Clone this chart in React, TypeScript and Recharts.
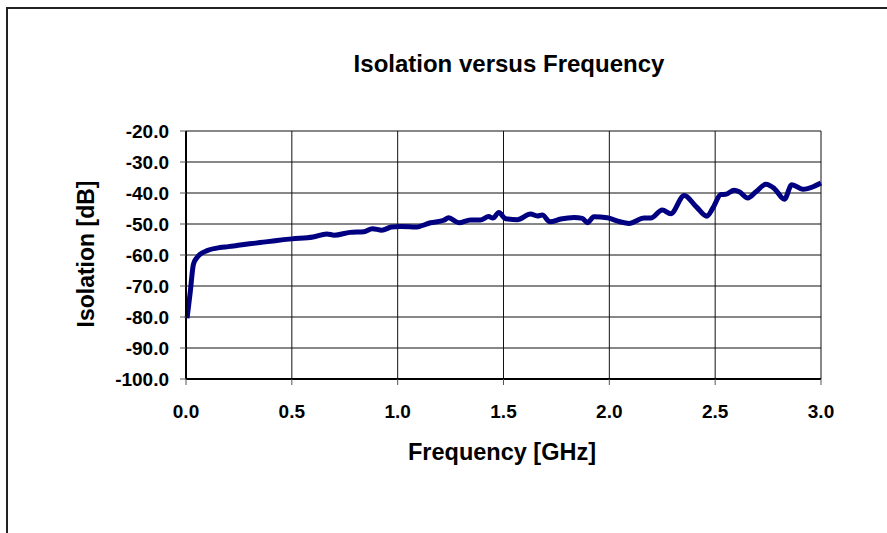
import { LineChart, Line, XAxis, YAxis, CartesianGrid } from 'recharts';

const freqGHz = [
  0.005, 0.02, 0.035, 0.05, 0.066, 0.1, 0.16, 0.2, 0.255, 0.3, 0.35, 0.43, 0.5, 0.6, 0.665, 0.7,
  0.775, 0.84, 0.88, 0.925, 0.97, 1.013, 1.06, 1.084, 1.155, 1.218, 1.24, 1.289, 1.344, 1.39, 1.43,
  1.45, 1.478, 1.51, 1.565, 1.628, 1.66, 1.683, 1.72, 1.77, 1.833, 1.873, 1.896, 1.927, 1.99, 2.046,
  2.093, 2.164, 2.196, 2.25, 2.29, 2.354, 2.41, 2.461, 2.488, 2.527, 2.55, 2.59, 2.614, 2.654, 2.693,
  2.74, 2.78, 2.827, 2.862, 2.914, 2.969, 3.0,
];

const isolationDb = [
  -80.4, -72, -63, -61, -59.8, -58.6, -57.6, -57.3, -56.8, -56.4, -56, -55.3, -54.8, -54.2, -53.2, -53.6,
  -52.7, -52.5, -51.5, -52.0, -51.0, -50.8, -50.9, -51.0, -49.6, -48.8, -48.0, -49.6, -48.7, -48.7, -47.6,
  -48.1, -46.3, -48.3, -48.6, -46.8, -47.4, -47.1, -49.3, -48.4, -47.9, -48.2, -49.6, -47.7, -48.0, -49.2,
  -49.8, -48.1, -48.1, -45.5, -46.7, -40.8, -44.4, -47.5, -45.0, -40.5, -40.4, -39.1, -39.6, -41.6, -39.6,
  -37.2, -38.6, -42.0, -37.3, -38.8, -37.8, -36.8,
];

const xTicks = [0, 0.5, 1, 1.5, 2, 2.5, 3];
const yTicks = [-100, -90, -80, -70, -60, -50, -40, -30, -20];

const data = freqGHz.map((f, i) => ({ freq: f, iso: isolationDb[i] }));

const font = 'Arial, "Liberation Sans", sans-serif';
const tickStyle = { fill: '#000', fontSize: 19, fontWeight: 700, fontFamily: font };

export default function App() {
  return (
    <div
      style={{
        position: 'fixed',
        left: 0,
        top: 0,
        width: 887,
        height: 533,
        overflow: 'hidden',
        background: '#fff',
        fontFamily: font,
      }}
    >
      <div
        style={{
          position: 'absolute',
          left: 6,
          top: 7,
          width: 1000,
          height: 1000,
          border: '2px solid #222',
        }}
      />
      <LineChart
        width={887}
        height={533}
        data={data}
        margin={{ top: 131, right: 66, bottom: 114, left: 86 }}
        style={{ position: 'absolute', left: 0, top: 0 }}
      >
        <CartesianGrid stroke="#111" strokeWidth={1} />
        <XAxis
          dataKey="freq"
          type="number"
          domain={[0, 3]}
          ticks={xTicks}
          interval={0}
          tickFormatter={(v: number) => v.toFixed(1)}
          stroke="#000"
          strokeWidth={2}
          tickSize={6}
          tickMargin={20}
          tickLine={{ stroke: '#555', strokeWidth: 1 }}
          tick={tickStyle}
          height={40}
        />
        <YAxis
          type="number"
          domain={[-100, -20]}
          ticks={yTicks}
          interval={0}
          tickFormatter={(v: number) => v.toFixed(1)}
          stroke="#000"
          strokeWidth={2}
          tickSize={6}
          tickMargin={11}
          tickLine={{ stroke: '#555', strokeWidth: 1 }}
          tick={tickStyle}
          width={100}
        />
        <Line
          dataKey="iso"
          type="monotone"
          stroke="#000080"
          strokeWidth={5}
          dot={false}
          isAnimationActive={false}
        />
      </LineChart>
      <div
        style={{
          position: 'absolute',
          left: 309,
          top: 52,
          width: 400,
          textAlign: 'center',
          fontSize: 24,
          lineHeight: '24px',
          fontWeight: 700,
          whiteSpace: 'nowrap',
        }}
      >
        Isolation versus Frequency
      </div>
      <div
        style={{
          position: 'absolute',
          left: 302,
          top: 441,
          width: 400,
          textAlign: 'center',
          fontSize: 23.5,
          lineHeight: '23.5px',
          fontWeight: 700,
          whiteSpace: 'nowrap',
        }}
      >
        Frequency [GHz]
      </div>
      <div
        style={{
          position: 'absolute',
          left: 86,
          top: 254,
          transform: 'translate(-50%, -50%) rotate(-90deg)',
          fontSize: 23,
          lineHeight: '23px',
          fontWeight: 700,
          whiteSpace: 'nowrap',
        }}
      >
        Isolation [dB]
      </div>
    </div>
  );
}
